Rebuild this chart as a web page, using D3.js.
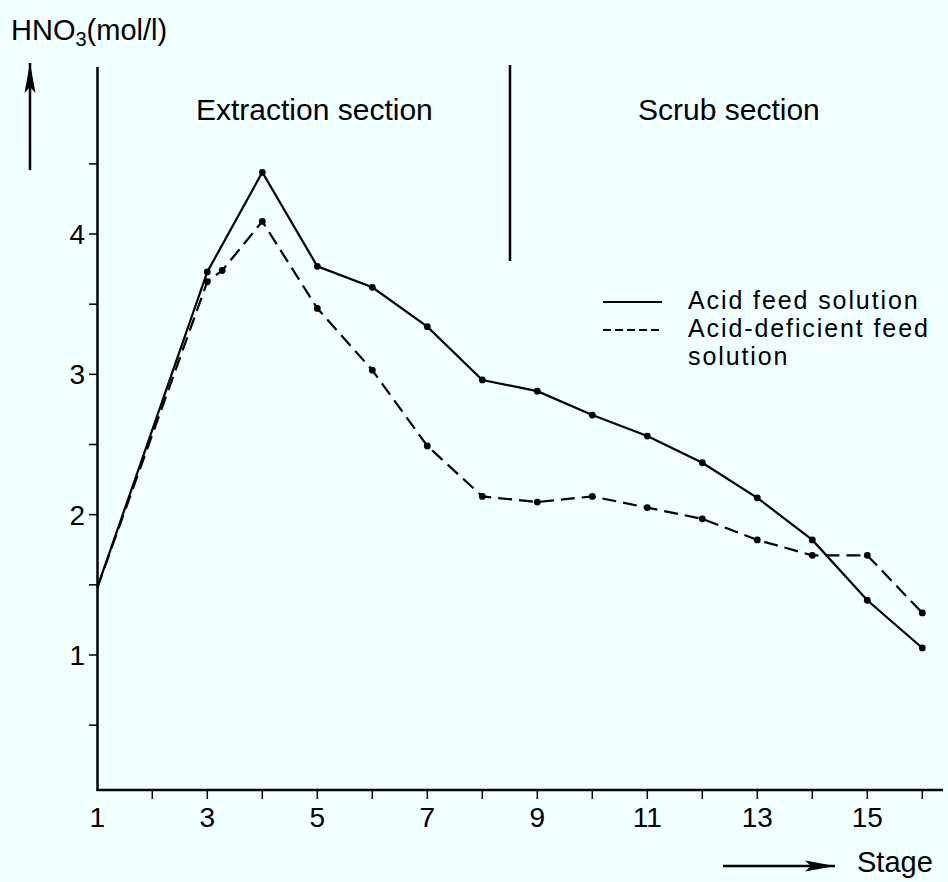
<!DOCTYPE html>
<html>
<head>
<meta charset="utf-8">
<script src="https://cdn.jsdelivr.net/npm/d3@7"></script>
<style>
    html, body { margin: 0; padding: 0; background: #f0ffff; }
    svg { display: block; }
    text { font-family: "Liberation Sans", Arial, Helvetica, sans-serif; fill: #000; }
</style>
</head>
<body>
<svg id="main-svg"></svg>
<script>
// stages and HNO3 concentrations
const acidStages = [1, 3, 4, 5, 6, 7, 8, 9, 10, 11, 12, 13, 14, 15, 16];
const acidFeed = [1.48, 3.73, 4.44, 3.77, 3.62, 3.34, 2.96, 2.88, 2.71, 2.56, 2.37, 2.12, 1.82, 1.39, 1.05];

const deficientStages = [1, 3, 3.27, 4, 5, 6, 7, 8, 9, 10, 11, 12, 13, 14, 15, 16];
const acidDeficientFeed = [1.48, 3.66, 3.74, 4.09, 3.47, 3.03, 2.49, 2.13, 2.09, 2.13, 2.05, 1.97, 1.82, 1.71, 1.71, 1.30];

const xTickValues = [2, 3, 4, 5, 6, 7, 8, 9, 10, 11, 12, 13, 14, 15, 16];
const xTickLabels = [1, 3, 5, 7, 9, 11, 13, 15];
const yTickValues = [0.5, 1, 1.5, 2, 2.5, 3, 3.5, 4, 4.5];
const yTickLabels = [1, 2, 3, 4];

const sectionLabels = ["Extraction section", "Scrub section"];
const legendLabels = ["Acid feed solution", "Acid-deficient feed", "solution"];

const width = 948;
const height = 882;

const svg = d3.select("#main-svg")
    .attr("width", width)
    .attr("height", height);

const x = d3.scaleLinear().domain([1, 16]).range([97.3, 922.3]);
const y = d3.scaleLinear().domain([0, 5]).range([795.3, 93.7]);

const axisY = 790;   // x axis sits a touch above zero
const solidDash = null;
const lineDash = "14,7";

// arrow markers
const defs = svg.append("defs");
defs.append("marker")
    .attr("id", "arrow")
    .attr("viewBox", "0 0 30 14")
    .attr("refX", 30)
    .attr("refY", 7)
    .attr("markerWidth", 30)
    .attr("markerHeight", 14)
    .attr("markerUnits", "userSpaceOnUse")
    .attr("orient", "auto")
    .append("path")
    .attr("d", "M0,1.5 L30,7 L0,12.5 L6,7 Z")
    .attr("fill", "#000");

// y axis
svg.append("line")
    .attr("x1", 97.5).attr("x2", 97.5)
    .attr("y1", 67).attr("y2", axisY + 1)
    .attr("stroke", "#000").attr("stroke-width", 2.5);

svg.selectAll(".y-tick")
    .data(yTickValues)
    .enter()
    .append("line")
    .attr("x1", 89).attr("x2", 97.5)
    .attr("y1", d => y(d)).attr("y2", d => y(d))
    .attr("stroke", "#000").attr("stroke-width", 1.5);

svg.selectAll(".y-label")
    .data(yTickLabels)
    .enter()
    .append("text")
    .attr("x", 85)
    .attr("y", d => y(d) + 10)
    .attr("text-anchor", "end")
    .attr("font-size", "28px")
    .text(d => d);

// x axis
svg.append("line")
    .attr("x1", 96.5).attr("x2", 943)
    .attr("y1", axisY).attr("y2", axisY)
    .attr("stroke", "#000").attr("stroke-width", 2.5);

svg.selectAll(".x-tick")
    .data(xTickValues)
    .enter()
    .append("line")
    .attr("x1", d => x(d)).attr("x2", d => x(d))
    .attr("y1", axisY).attr("y2", axisY + 9)
    .attr("stroke", "#000").attr("stroke-width", 1.5);

svg.selectAll(".x-label")
    .data(xTickLabels)
    .enter()
    .append("text")
    .attr("x", d => x(d))
    .attr("y", 827)
    .attr("text-anchor", "middle")
    .attr("font-size", "28px")
    .text(d => d);

// axis titles with arrows
const yTitle = svg.append("text")
    .attr("x", 11)
    .attr("y", 40)
    .attr("font-size", "29px");
yTitle.append("tspan").text("HNO");
yTitle.append("tspan").attr("dy", 6).attr("font-size", "20px").text("3");
yTitle.append("tspan").attr("dy", -6).text("(mol/l)");

svg.append("line")
    .attr("x1", 30).attr("x2", 30)
    .attr("y1", 170).attr("y2", 63)
    .attr("stroke", "#000").attr("stroke-width", 2.5)
    .attr("marker-end", "url(#arrow)");

svg.append("line")
    .attr("x1", 723).attr("x2", 835)
    .attr("y1", 866).attr("y2", 866)
    .attr("stroke", "#000").attr("stroke-width", 2.5)
    .attr("marker-end", "url(#arrow)");

svg.append("text")
    .attr("x", 857)
    .attr("y", 872)
    .attr("font-size", "29px")
    .text("Stage");

// section divider and labels
svg.append("line")
    .attr("x1", 510).attr("x2", 510)
    .attr("y1", 65).attr("y2", 261)
    .attr("stroke", "#000").attr("stroke-width", 2.5);

svg.selectAll(".section-label")
    .data(sectionLabels)
    .enter()
    .append("text")
    .attr("x", (d, i) => i === 0 ? 196 : 638)
    .attr("y", 120)
    .attr("font-size", "30px")
    .text(d => d);

// the two curves
const series = [
    { xs: acidStages, ys: acidFeed, dash: solidDash },
    { xs: deficientStages, ys: acidDeficientFeed, dash: lineDash }
];

const line = d3.line()
    .x(d => x(d[0]))
    .y(d => y(d[1]));

series.forEach(s => {
    const pts = s.xs.map((v, i) => [v, s.ys[i]]);

    svg.append("path")
        .datum(pts)
        .attr("d", line)
        .attr("fill", "none")
        .attr("stroke", "#000")
        .attr("stroke-width", 2.2)
        .attr("stroke-dasharray", s.dash);

    svg.selectAll(null)
        .data(pts.slice(1))
        .enter()
        .append("circle")
        .attr("cx", d => x(d[0]))
        .attr("cy", d => y(d[1]))
        .attr("r", 3.4)
        .attr("fill", "#000");
});

// legend
const legend = svg.append("g");

legend.append("line")
    .attr("x1", 603).attr("x2", 662)
    .attr("y1", 302).attr("y2", 302)
    .attr("stroke", "#000").attr("stroke-width", 2.2);

legend.append("line")
    .attr("x1", 603).attr("x2", 662)
    .attr("y1", 330).attr("y2", 330)
    .attr("stroke", "#000").attr("stroke-width", 2.2)
    .attr("stroke-dasharray", "8,4");

// texts wrap over three rows, spaced so they do not collide
legend.selectAll(".legend-label")
    .data(legendLabels)
    .enter()
    .append("text")
    .attr("x", 688)
    .attr("y", (d, i) => 309 + i * 28.2)
    .attr("font-size", "25px")
    .attr("letter-spacing", "1.9px")
    .text(d => d);
</script>
</body>
</html>
